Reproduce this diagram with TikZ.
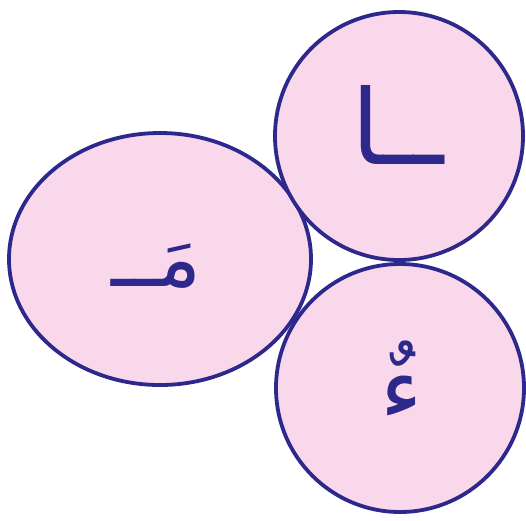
\documentclass[tikz,border=0pt]{standalone}
\usepackage{fontspec}
\newfontfamily\arabicfont[Script=Arabic]{DejaVu Sans}
\TeXXeTstate=1
\usetikzlibrary{shapes.geometric}
\definecolor{ringblue}{RGB}{45, 40, 140}
\definecolor{petal}{RGB}{250, 216, 236}

\begin{document}
\begin{tikzpicture}[
    x=1pt, y=-1pt,
    part/.style={draw=ringblue, fill=petal, line width=3.8pt, inner sep=0pt},
    letter/.style={text=ringblue, inner sep=0pt},
  ]
    \useasboundingbox (0,0) rectangle (526,520);

    % the three pieces of the word
    \node[part, ellipse, minimum width=302pt, minimum height=252pt] (meemPart) at (160,259) {};
    \node[part, circle, minimum size=248pt] (alifPart) at (399,136) {};
    \node[part, circle, minimum size=248pt] (hamzaPart) at (400,388) {};

    % letters
    \node[letter, font=\arabicfont\fontsize{80}{80}\selectfont] (meem) at (156,266) {\beginR مَــ\endR};
    \node[letter, font=\arabicfont\fontsize{104}{104}\selectfont] (alif) at (398,125) {\beginR ــا\endR};
    \node[letter, font=\arabicfont\fontsize{90}{90}\selectfont] (hamza) at (402,380) {\beginR ءٌ\endR};
\end{tikzpicture}
\end{document}
